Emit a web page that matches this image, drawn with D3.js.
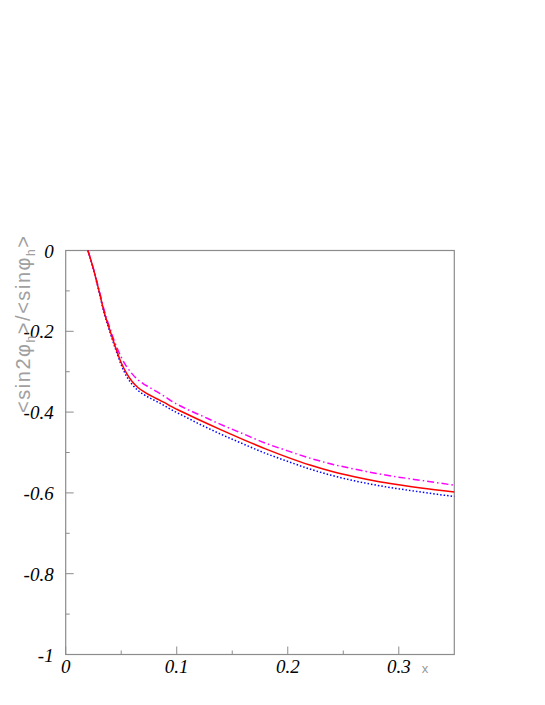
<!DOCTYPE html>
<html>
<head>
<meta charset="utf-8">
<script src="https://cdn.jsdelivr.net/npm/d3@7"></script>
<style>
  body { margin: 0; background: #fff; }
  svg { display: block; }
</style>
</head>
<body>
<div id="chart"></div>
<script>
// x values shared by the three curves
var xs = [0.02, 0.025, 0.03, 0.035, 0.04, 0.045, 0.05, 0.055, 0.06, 0.065, 0.07,
  0.075, 0.08, 0.085, 0.09, 0.095, 0.10, 0.11, 0.12, 0.14, 0.16, 0.18, 0.20,
  0.22, 0.24, 0.26, 0.28, 0.30, 0.32, 0.35]

var red_vals = [0, -0.046, -0.100, -0.156, -0.199, -0.241, -0.278, -0.305, -0.325, -0.339, -0.349,
  -0.357, -0.364, -0.371, -0.378, -0.386, -0.393, -0.406, -0.419, -0.444, -0.468, -0.491, -0.512,
  -0.531, -0.547, -0.560, -0.571, -0.580, -0.588, -0.598]

var magenta_vals = [0, -0.045, -0.097, -0.151, -0.194, -0.233, -0.264, -0.288, -0.306, -0.320, -0.330,
  -0.338, -0.346, -0.354, -0.363, -0.372, -0.380, -0.394, -0.406, -0.431, -0.454, -0.477, -0.496,
  -0.514, -0.529, -0.541, -0.552, -0.561, -0.569, -0.581]

var blue_vals = [0, -0.047, -0.102, -0.159, -0.203, -0.245, -0.283, -0.312, -0.332, -0.346, -0.356,
  -0.364, -0.371, -0.378, -0.386, -0.394, -0.401, -0.415, -0.429, -0.455, -0.479, -0.502, -0.522,
  -0.541, -0.557, -0.570, -0.581, -0.590, -0.598, -0.609]

var x_major = [0, 0.1, 0.2, 0.3]
var x_minor = [0.05, 0.15, 0.25]
var y_major = [0, -0.2, -0.4, -0.6, -0.8, -1]
var y_minor = [-0.1, -0.3, -0.5, -0.7, -0.9]

var width = 545, height = 705
var m_left = 65.7, m_right = 454.3, m_top = 250.5, m_bottom = 654.5

var svg = d3.select("#chart")
  .append("svg")
  .attr("width", width)
  .attr("height", height)

var x = d3.scaleLinear().domain([0, 0.35]).range([m_left, m_right])
var y = d3.scaleLinear().domain([-1, 0]).range([m_bottom, m_top])

var axis_color = "#8c8c8c"

// frame
svg.append("rect")
  .attr("x", x(0))
  .attr("y", y(0))
  .attr("width", x(0.35) - x(0))
  .attr("height", y(-1) - y(0))
  .attr("fill", "none")
  .attr("stroke", axis_color)
  .attr("stroke-width", 1.2)

// x ticks point up into the frame
var xAxis = svg.append("g")
  .attr("transform", "translate(0," + m_bottom + ")")
xAxis.selectAll(".xmaj")
  .data(x_major)
  .enter()
  .append("line")
  .attr("x1", function(d) { return x(d) })
  .attr("x2", function(d) { return x(d) })
  .attr("y1", 0)
  .attr("y2", -8)
  .attr("stroke", axis_color)
xAxis.selectAll(".xmin")
  .data(x_minor)
  .enter()
  .append("line")
  .attr("x1", function(d) { return x(d) })
  .attr("x2", function(d) { return x(d) })
  .attr("y1", 0)
  .attr("y2", -4)
  .attr("stroke", axis_color)
xAxis.selectAll(".xlab")
  .data(x_major)
  .enter()
  .append("text")
  .attr("x", function(d) { return x(d) })
  .attr("y", 18)
  .attr("text-anchor", "middle")
  .style("font-family", "'Liberation Serif', 'DejaVu Serif', serif")
  .style("font-style", "italic")
  .style("font-size", "19px")
  .text(function(d) { return d == 0 ? "0" : d3.format(".1f")(d) })

// y ticks point right into the frame
var yAxis = svg.append("g")
  .attr("transform", "translate(" + m_left + ",0)")
yAxis.selectAll(".ymaj")
  .data(y_major)
  .enter()
  .append("line")
  .attr("x1", 0)
  .attr("x2", 8)
  .attr("y1", function(d) { return y(d) })
  .attr("y2", function(d) { return y(d) })
  .attr("stroke", axis_color)
yAxis.selectAll(".ymin")
  .data(y_minor)
  .enter()
  .append("line")
  .attr("x1", 0)
  .attr("x2", 4)
  .attr("y1", function(d) { return y(d) })
  .attr("y2", function(d) { return y(d) })
  .attr("stroke", axis_color)
yAxis.selectAll(".ylab")
  .data(y_major)
  .enter()
  .append("text")
  .attr("x", -12)
  .attr("y", function(d) { return y(d) + 7 })
  .attr("text-anchor", "end")
  .style("font-family", "'Liberation Serif', 'DejaVu Serif', serif")
  .style("font-style", "italic")
  .style("font-size", "19px")
  .text(function(d) {
    if (d == 0) return "0"
    if (d == -1) return "-1"
    return "-" + d3.format(".1f")(-d)
  })

// axis titles
svg.append("text")
  .attr("x", 425)
  .attr("y", 673)
  .attr("text-anchor", "middle")
  .style("font-family", "'Liberation Sans', sans-serif")
  .style("font-size", "13px")
  .attr("fill", "#999")
  .text("x")

var ytitle = svg.append("text")
  .attr("transform", "translate(30,413) rotate(-90)")
  .attr("textLength", 177)
  .attr("lengthAdjust", "spacing")
  .style("font-family", "'Liberation Sans', sans-serif")
  .style("font-size", "20px")
  .attr("fill", "#a0a0a0")
ytitle.append("tspan").text("<sin2φ")
ytitle.append("tspan").attr("dy", 5).style("font-size", "12px").text("h")
ytitle.append("tspan").attr("dy", -5).text(">/<sinφ")
ytitle.append("tspan").attr("dy", 5).style("font-size", "12px").text("h")
ytitle.append("tspan").attr("dy", -5).text(">")

// curves
var line = d3.line()
  .x(function(d) { return x(d[0]) })
  .y(function(d) { return y(d[1]) })
  .curve(d3.curveMonotoneX)

var series = [
  { vals: blue_vals, color: "#0000ff", dash: "1.5,2", w: 1.5 },
  { vals: magenta_vals, color: "#ff00ff", dash: "7,3,1.5,3", w: 1.5 },
  { vals: red_vals, color: "#ff0000", dash: null, w: 1.5 }
]

svg.selectAll(".curve")
  .data(series)
  .enter()
  .append("path")
  .attr("class", "curve")
  .attr("d", function(s) { return line(xs.map(function(v, i) { return [v, s.vals[i]] })) })
  .attr("fill", "none")
  .attr("stroke", function(s) { return s.color })
  .attr("stroke-width", function(s) { return s.w })
  .attr("stroke-dasharray", function(s) { return s.dash })
</script>
</body>
</html>
